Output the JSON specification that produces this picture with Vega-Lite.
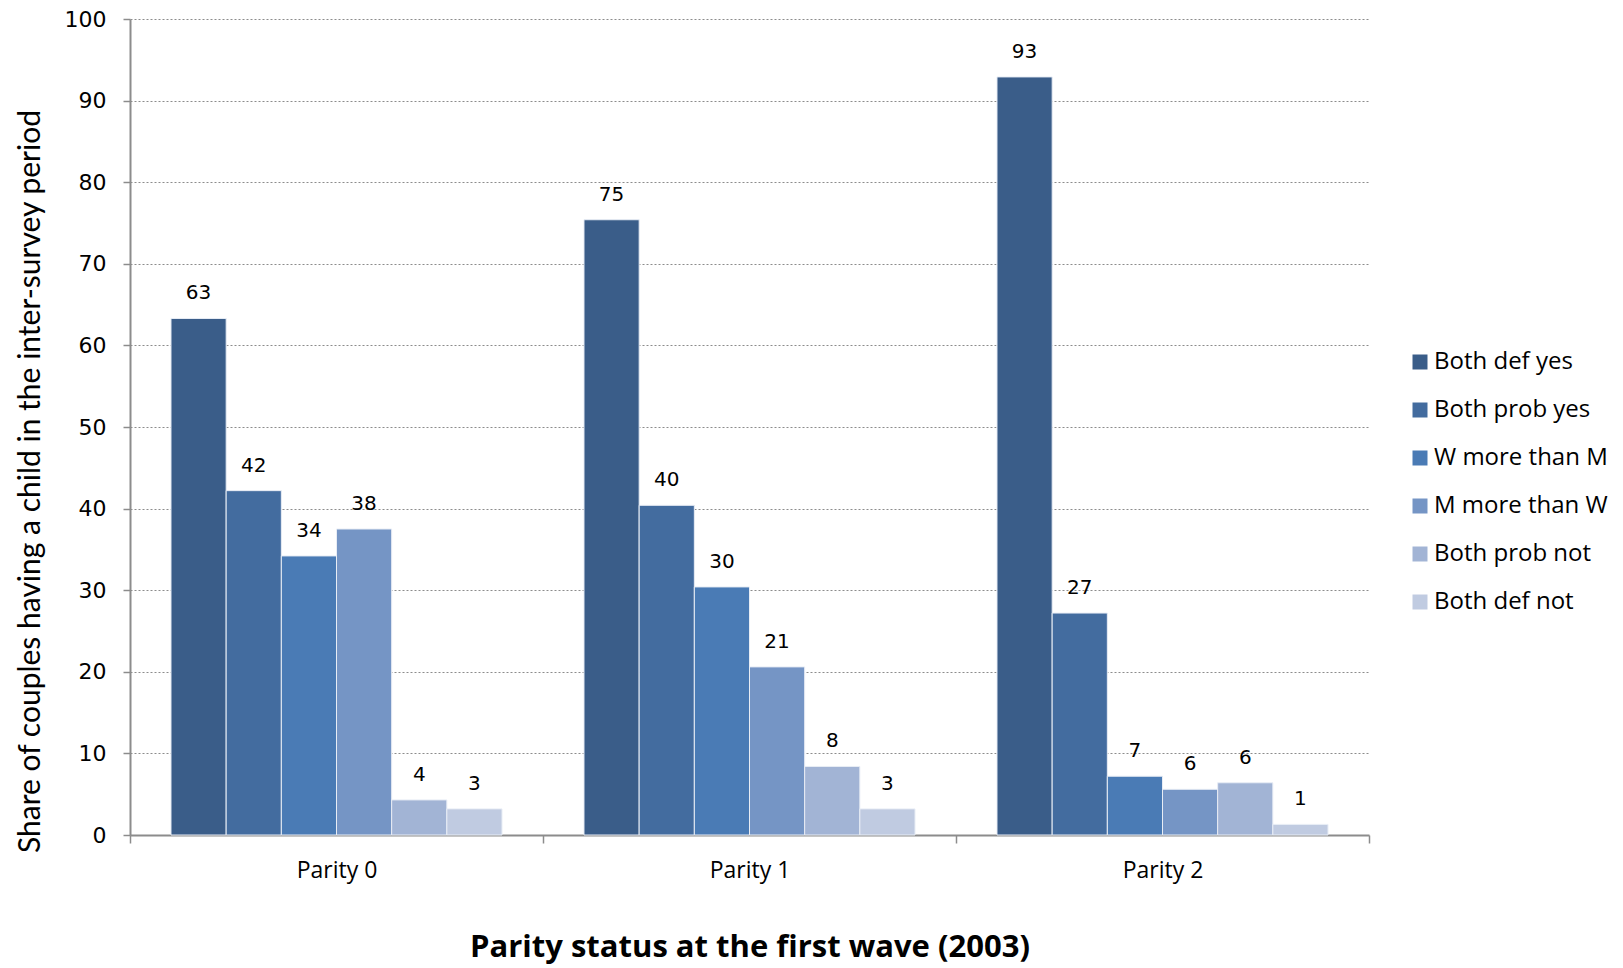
{
  "$schema": "https://vega.github.io/schema/vega-lite/v6.json",
  "width": 1239,
  "height": 816,
  "autosize": {"type": "none"},
  "padding": {"left": 130, "top": 19, "right": 254, "bottom": 133},
  "background": "white",
  "config": {
    "view": {"stroke": null},
    "font": "Open Sans"
  },
  "data": {
    "values": [
      {"parity": "Parity 0", "group": "Both def yes", "share": 63.3},
      {"parity": "Parity 0", "group": "Both prob yes", "share": 42.2},
      {"parity": "Parity 0", "group": "W more than M", "share": 34.2},
      {"parity": "Parity 0", "group": "M more than W", "share": 37.5},
      {"parity": "Parity 0", "group": "Both prob not", "share": 4.3},
      {"parity": "Parity 0", "group": "Both def not", "share": 3.2},
      {"parity": "Parity 1", "group": "Both def yes", "share": 75.4},
      {"parity": "Parity 1", "group": "Both prob yes", "share": 40.4},
      {"parity": "Parity 1", "group": "W more than M", "share": 30.4},
      {"parity": "Parity 1", "group": "M more than W", "share": 20.6},
      {"parity": "Parity 1", "group": "Both prob not", "share": 8.4},
      {"parity": "Parity 1", "group": "Both def not", "share": 3.2},
      {"parity": "Parity 2", "group": "Both def yes", "share": 92.9},
      {"parity": "Parity 2", "group": "Both prob yes", "share": 27.2},
      {"parity": "Parity 2", "group": "W more than M", "share": 7.2},
      {"parity": "Parity 2", "group": "M more than W", "share": 5.6},
      {"parity": "Parity 2", "group": "Both prob not", "share": 6.4},
      {"parity": "Parity 2", "group": "Both def not", "share": 1.3}
    ]
  },
  "encoding": {
    "x": {
      "field": "parity",
      "type": "nominal",
      "scale": {"paddingInner": 0, "paddingOuter": 0},
      "axis": {
        "title": "Parity status at the first wave (2003)",
        "titleFont": "Open Sans",
        "titleFontSize": 31,
        "titleFontWeight": "bold",
        "titleColor": "#000000",
        "titlePadding": 50,
        "labelAngle": 0,
        "labelFont": "Open Sans",
        "labelFontSize": 23,
        "labelColor": "#000000",
        "labelPadding": 16,
        "tickBand": "extent",
        "tickSize": 8,
        "tickColor": "#8c8c8c",
        "tickWidth": 1.5,
        "domainColor": "#8c8c8c",
        "domainWidth": 2,
        "grid": false
      }
    },
    "xOffset": {
      "field": "group",
      "type": "nominal",
      "sort": ["Both def yes", "Both prob yes", "W more than M", "M more than W", "Both prob not", "Both def not"],
      "scale": {"paddingInner": 0, "paddingOuter": 0.743}
    },
    "y": {
      "field": "share",
      "type": "quantitative",
      "scale": {"domain": [0, 100], "nice": false},
      "axis": {
        "values": [0, 10, 20, 30, 40, 50, 60, 70, 80, 90, 100],
        "title": "Share of couples having a child in the inter-survey period",
        "titleFont": "Lato",
        "titleFontSize": 30,
        "titleFontWeight": "normal",
        "titleColor": "#000000",
        "titleX": -100,
        "titleY": 462,
        "titleAlign": "center",
        "titleBaseline": "middle",
        "labelFont": "DejaVu Sans",
        "labelFontSize": 22,
        "labelColor": "#000000",
        "labelPadding": 17,
        "tickSize": 7,
        "tickColor": "#8c8c8c",
        "tickWidth": 1.5,
        "domainColor": "#8c8c8c",
        "domainWidth": 2,
        "grid": true,
        "gridColor": "#8c8c8c",
        "gridDash": [2, 2],
        "gridWidth": 1
      }
    }
  },
  "layer": [
    {
      "mark": {"type": "bar", "stroke": "#e8edf5", "strokeWidth": 1},
      "encoding": {
        "color": {
          "field": "group",
          "type": "nominal",
          "scale": {
            "domain": ["Both def yes", "Both prob yes", "W more than M", "M more than W", "Both prob not", "Both def not"],
            "range": ["#3a5d89", "#436c9f", "#4a7bb5", "#7595c5", "#a2b4d5", "#c0cbe1"]
          },
          "legend": {
            "title": null,
            "orient": "none",
            "legendX": 1278,
            "legendY": 331,
            "padding": 0,
            "symbolType": "square",
            "symbolSize": 225,
            "symbolStrokeWidth": 0,
            "labelFont": "Open Sans",
            "labelFontSize": 24,
            "labelColor": "#000000",
            "labelOffset": 2,
            "rowPadding": 24,
            "labelLimit": 300
          }
        }
      }
    },
    {
      "mark": {
        "type": "text",
        "font": "DejaVu Sans",
        "fontSize": 20,
        "color": "#000000",
        "baseline": "middle",
        "align": "center",
        "dy": -25
      },
      "encoding": {
        "text": {"field": "share", "type": "quantitative", "format": ".0f"}
      }
    }
  ]
}
